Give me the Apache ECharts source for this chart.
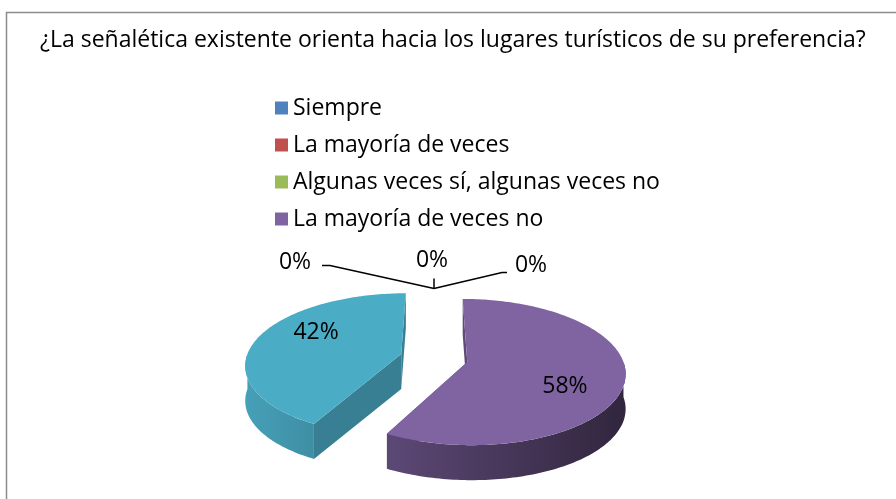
<!DOCTYPE html>
<html>
<head>
<meta charset="utf-8">
<title>Señalética</title>
<script src="https://cdn.jsdelivr.net/npm/echarts@6/dist/echarts.min.js"></script>
<style>
  html, body { margin: 0; padding: 0; background: #fff; }
  #chart { width: 896px; height: 499px; }
</style>
</head>
<body>
<div id="chart"></div>
<script>
// datos
const titulo = "¿La señalética existente orienta hacia los lugares turísticos de su preferencia?";
const categorias = ["Siempre", "La mayoría de veces", "Algunas veces sí, algunas veces no", "La mayoría de veces no", "Nunca"];
const porcentajes = [0, 0, 0, 58, 42];
const colores = ["#4f81bd", "#c0504d", "#9bbb59", "#8064a2", "#4bacc6"];
const leyenda = categorias.slice(0, 4); // la leyenda original solo muestra 4

const FONT = "'Open Sans', sans-serif";
// geometria del pastel 3D (centro, radios, grosor, perspectiva, separacion)
const CX = 434, CY = 358, RX = 155, RY = 72, DEPTH = 35, PERSP = 0.14, EXPLODE = 0.22;
// etiquetas interiores: radio y giro respecto al angulo medio
const LABEL_R = 0.67, LABEL_TURN = 14 * Math.PI / 180;
// posicion de las etiquetas de 0% respecto al punto de anclaje
const zeroLayout = [
  { text: [-139, -26], line: [[-104, -23], [-112, -23]] },
  { text: [-2, -28], line: [[0, -10]] },
  { text: [97, -23], line: [[68, -16], [73, -16]] }
];

const total = porcentajes.reduce((a, b) => a + b, 0);
let acum = 0;
const tramos = porcentajes.map(v => { const t = [acum, acum + v]; acum += v; return t; });

function punto(ang, r, off, h) {
  const u = off[0] + r * Math.sin(ang);
  const v = off[1] - r * Math.cos(ang);
  const s = 1 + PERSP * v;
  return [CX + u * RX * s, CY + v * RY * s + h];
}

function arco(a1, a2, off, h) {
  const pts = [];
  const n = Math.max(2, Math.ceil((a2 - a1) / 0.02));
  for (let i = 0; i <= n; i++) pts.push(punto(a1 + (a2 - a1) * i / n, 1, off, h));
  return pts;
}

function oscurecer(hex, k) {
  const c = echarts.color.parse(hex);
  return "rgb(" + [0, 1, 2].map(i => Math.round(c[i] * (1 - k))).join(",") + ")";
}

function renderItem(params, api) {
  const idx = params.seriesIndex;
  const v0 = api.value(0), v1 = api.value(1);
  const a1 = v0 / total * 2 * Math.PI;
  const a2 = v1 / total * 2 * Math.PI;
  const pct = Math.round((v1 - v0) / total * 100) + "%";
  const color = colores[idx];
  const children = [];

  if (a2 - a1 < 1e-6) {
    // porcion vacia: solo etiqueta con linea guia
    const ancla = punto(a1, 1.15, [0, 0], 0);
    const lay = zeroLayout[idx % zeroLayout.length];
    const pts = [ancla].concat(lay.line.map(d => [ancla[0] + d[0], ancla[1] + d[1]]));
    children.push({ type: "polyline", shape: { points: pts }, style: { stroke: "#000", lineWidth: 1.5, fill: null } });
    children.push({
      type: "text",
      x: ancla[0] + lay.text[0], y: ancla[1] + lay.text[1],
      style: { text: pct, fill: "#000", font: "23px " + FONT, align: "center", verticalAlign: "middle" }
    });
    return { type: "group", children };
  }

  const mid = (a1 + a2) / 2;
  const off = [EXPLODE * Math.sin(mid), -EXPLODE * Math.cos(mid)];
  const c0 = punto(0, 0, off, 0), c1 = punto(0, 0, off, DEPTH);

  // caras radiales
  [a1, a2].forEach(a => {
    const p0 = punto(a, 1, off, 0), p1 = punto(a, 1, off, DEPTH);
    children.push({ type: "polygon", shape: { points: [c0, p0, p1, c1] }, style: { fill: oscurecer(color, 0.26) } });
  });

  // lateral curvo (solo la parte frontal), luz que viene de la izquierda
  const s1 = Math.max(a1, Math.PI / 2), s2 = Math.min(a2, Math.PI * 1.5);
  if (s2 > s1) {
    const arriba = arco(s1, s2, off, 0);
    const abajo = arco(s1, s2, off, DEPTH).reverse();
    const xa = CX - RX * (1 + EXPLODE), xb = CX + RX * (1 + EXPLODE);
    children.push({
      type: "polygon",
      shape: { points: arriba.concat(abajo) },
      style: {
        fill: new echarts.graphic.LinearGradient(xa, 0, xb, 0, [
          { offset: 0, color: oscurecer(color, 0.07) },
          { offset: 1, color: oscurecer(color, 0.62) }
        ], true)
      }
    });
  }

  // cara superior
  children.push({ type: "polygon", shape: { points: [c0].concat(arco(a1, a2, off, 0)) }, style: { fill: color } });

  // etiqueta interior
  const lp = punto(mid + LABEL_TURN, LABEL_R, off, 0);
  children.push({
    type: "text", x: lp[0], y: lp[1],
    style: { text: pct, fill: "#000", font: "23px " + FONT, align: "center", verticalAlign: "middle" }
  });
  return { type: "group", children };
}

const series = categorias.map((nombre, i) => ({
  name: nombre,
  type: "custom",
  coordinateSystem: "none",
  itemStyle: { color: colores[i] },
  renderItem: renderItem,
  data: [tramos[i]]
}));

const option = {
  backgroundColor: "#fff",
  animation: false,
  title: {
    text: titulo,
    left: 35,
    top: 24,
    textStyle: { fontFamily: FONT, fontSize: 23, fontWeight: "normal", color: "#000" }
  },
  legend: {
    data: leyenda,
    orient: "vertical",
    left: 270,
    top: 91,
    icon: "rect",
    itemWidth: 13,
    itemHeight: 13,
    itemGap: 13,
    selectedMode: false,
    textStyle: { fontFamily: FONT, fontSize: 23, lineHeight: 24, color: "#000" }
  },
  graphic: [{
    type: "rect", left: 4, top: 10, silent: true,
    shape: { width: 900, height: 500 },
    style: { fill: null, stroke: "#8c8c8c", lineWidth: 1.5 }
  }],
  series: series
};

const chart = echarts.init(document.getElementById("chart"));
chart.setOption(option);
window.addEventListener("resize", () => { chart.resize(); });
</script>
</body>
</html>
